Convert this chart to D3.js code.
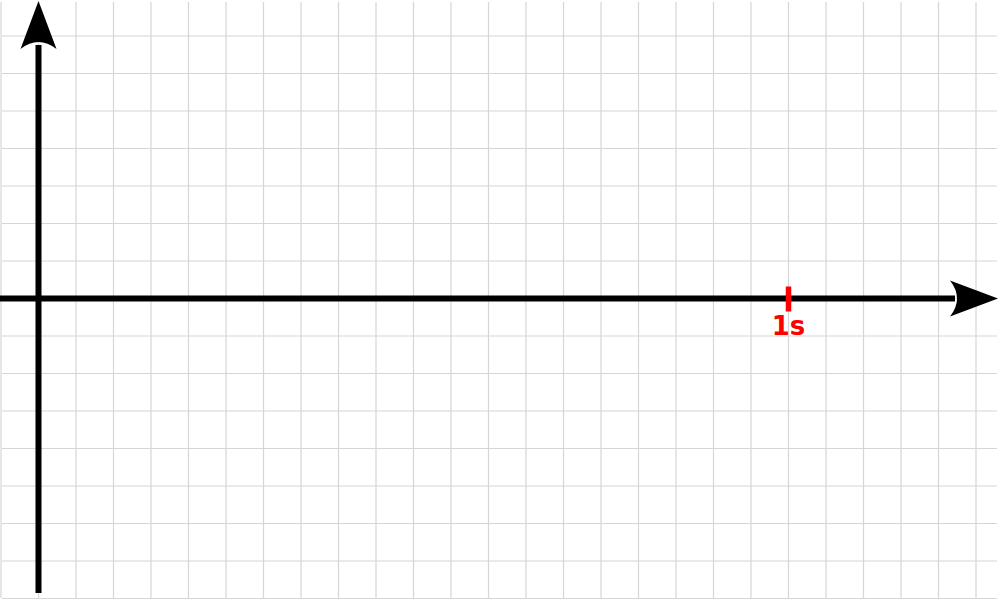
<!DOCTYPE html>
<html><head><meta charset="utf-8">
<script src="https://cdn.jsdelivr.net/npm/d3@7"></script>
<style>html,body{margin:0;padding:0;background:#fff;}svg{display:block;}</style>
</head><body>
<svg id="chart" width="1000" height="600"></svg>
<script>
// Data
const xGridTicks = d3.range(-50, 1251, 50).map(v => v / 1000); // seconds, every 0.05 s
const yGridTicks = d3.range(-8, 9, 1);                        // arbitrary units
const tickValues = [1];
const tickLabels = ["1s"];

const svg = d3.select("#chart");
const x = d3.scaleLinear().domain([0, 1]).range([38.5, 788.5]);
const y = d3.scaleLinear().domain([0, 1]).range([298.5, 261]);

// grid
const grid = svg.append("g").attr("stroke", "#d6d6d6").attr("stroke-width", 1.2);
grid.selectAll("line.v").data(xGridTicks.filter(t => x(t) >= 0 && x(t) <= 998)).join("line")
  .attr("class", "v").attr("x1", d => x(d)).attr("x2", d => x(d)).attr("y1", 2).attr("y2", 598);
grid.selectAll("line.h").data(yGridTicks.filter(t => y(t) >= 0 && y(t) <= 600)).join("line")
  .attr("class", "h").attr("y1", d => y(d)).attr("y2", d => y(d)).attr("x1", 2).attr("x2", 997);

// arrowhead path: tip at (0,0), pointing +x
function arrowHead(len, half, notch) {
  return `M0,0 L${-len},${-half} Q${-len + notch},0 ${-len},${half} Z`;
}

const x0 = x(0), y0 = y(0);
// x axis
svg.append("line").attr("x1", 0).attr("x2", 955).attr("y1", y0).attr("y2", y0)
  .attr("stroke", "#000").attr("stroke-width", 6);
svg.append("path").attr("d", arrowHead(48, 18, 14))
  .attr("transform", `translate(998,${y0})`).attr("fill", "#000");

// y axis
svg.append("line").attr("x1", x0).attr("x2", x0).attr("y1", 593).attr("y2", 45)
  .attr("stroke", "#000").attr("stroke-width", 6);
svg.append("path").attr("d", arrowHead(48, 18, 14))
  .attr("transform", `translate(${x0},1) rotate(-90)`).attr("fill", "#000");

// red tick
const tg = svg.append("g").selectAll("g").data(tickValues).join("g")
  .attr("transform", d => `translate(${x(d)},${y0})`);
tg.append("line").attr("y1", -12).attr("y2", 13).attr("stroke", "red").attr("stroke-width", 5.5);
tg.append("text").text((d, i) => tickLabels[i]).attr("y", 36.5).attr("text-anchor", "middle")
  .attr("fill", "red").attr("font-family", "DejaVu Sans").attr("font-weight", "bold").attr("font-size", 26);
</script>
</body></html>
